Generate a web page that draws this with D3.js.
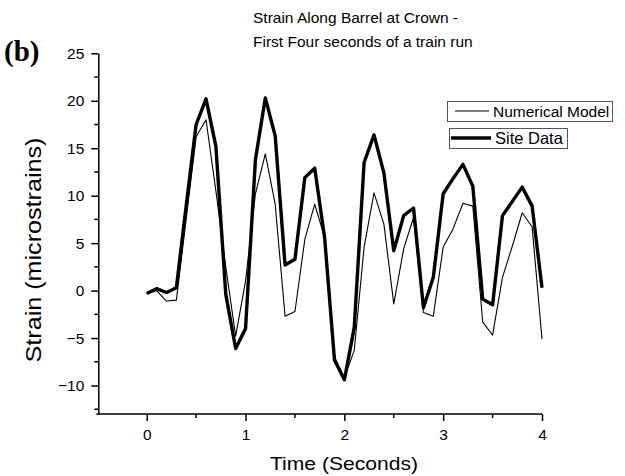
<!DOCTYPE html>
<html><head><meta charset="utf-8">
<script src="https://cdn.jsdelivr.net/npm/d3@7/dist/d3.min.js"></script>
<style>body{margin:0;background:#fff}svg{display:block}text{font-family:Arial,"Liberation Sans",sans-serif;fill:#000}</style>
</head><body>
<script>
const times = d3.range(41).map(i => +(i * 0.1).toFixed(1));
const siteData = [-0.3,0.2,-0.2,0.3,9.0,17.5,20.2,15.2,-0.4,-6.1,-4.0,13.8,20.3,16.3,2.7,3.3,11.9,12.9,5.6,-7.3,-9.4,-3.9,13.5,16.4,12.4,4.2,7.9,8.7,-1.8,1.4,10.2,11.8,13.3,11.0,-0.9,-1.5,7.9,9.4,10.9,8.9,0.3];
const numericalModel = [-0.3,0.0,-1.1,-1.0,7.6,16.2,18.0,10.5,2.5,-4.8,1.0,10.2,14.4,9.1,-2.7,-2.2,5.4,9.1,5.6,-7.0,-9.2,-6.3,4.6,10.3,7.0,-1.4,4.4,7.7,-2.3,-2.7,4.6,6.5,9.2,8.9,-3.3,-4.7,1.4,4.7,8.2,6.7,-5.1];
const xTicks = [0,1,2,3,4];
const xMinor = [0.5,1.5,2.5,3.5];
const yTicks = [-10,-5,0,5,10,15,20,25];
const yMinor = [-12.5,-7.5,-2.5,2.5,7.5,12.5,17.5,22.5];
const titleLines = ["Strain Along Barrel at Crown -","First Four seconds of a train run"];

const W=625,H=476;
const svg=d3.select("body").append("svg").attr("width",W).attr("height",H);
const x=d3.scaleLinear().domain([-0.49,4]).range([98.3,542]);
const y=d3.scaleLinear().domain([-13,25]).range([414,53.3]);

// axes
const gx=svg.append("g").attr("transform",`translate(0,${y(-13)})`)
  .call(d3.axisBottom(x).tickValues(xTicks).tickSize(7).tickSizeOuter(0).tickPadding(8).tickFormat(d3.format("d")));
gx.append("g").selectAll("line").data(xMinor).join("line")
  .attr("x1",d=>x(d)).attr("x2",d=>x(d)).attr("y1",0).attr("y2",4).attr("stroke","#000").attr("stroke-width",1.5);
const gy=svg.append("g").attr("transform",`translate(${x(-0.49)},0)`)
  .call(d3.axisLeft(y).tickValues(yTicks).tickSize(7).tickSizeOuter(0).tickPadding(7).tickFormat(d3.format("d")));
gy.append("g").selectAll("line").data(yMinor).join("line")
  .attr("x1",0).attr("x2",-4).attr("y1",d=>y(d)).attr("y2",d=>y(d)).attr("stroke","#000").attr("stroke-width",1.5);
[gx,gy].forEach(g=>{
  g.select(".domain").attr("stroke","#000").attr("stroke-width",1.5);
  g.selectAll(".tick line").attr("stroke","#000").attr("stroke-width",1.5);
  g.selectAll(".tick text").style("font-size","15.5px").style("font-family","Arial, 'Liberation Sans', sans-serif").attr("fill","#000");
});
gx.select(".domain").attr("d",`M${x(-0.49)-2},0H${x(4)}`);

// lines
const line=vals=>d3.line().x((d,i)=>x(times[i])).y(d=>y(d))(vals);
svg.append("path").attr("d",line(numericalModel)).attr("fill","none").attr("stroke","#000").attr("stroke-width",1.1).attr("stroke-linejoin","round");
svg.append("path").attr("d",line(siteData)).attr("fill","none").attr("stroke","#000").attr("stroke-width",3.4).attr("stroke-linejoin","round");

// titles
svg.append("text").attr("x",253).attr("y",23).style("font-size","15.5px").text(titleLines[0]);
svg.append("text").attr("x",253).attr("y",47).style("font-size","15.5px").text(titleLines[1]);
svg.append("text").attr("x",4).attr("y",61).style("font-family","'Liberation Serif','Times New Roman',serif").style("font-weight","bold").style("font-size","29px").text("(b)");
svg.append("text").attr("x",344).attr("y",470).attr("text-anchor","middle").style("font-size","19px").attr("textLength",148).attr("lengthAdjust","spacingAndGlyphs").text("Time (Seconds)");
svg.append("text").attr("transform","translate(41,250) rotate(-90)").attr("text-anchor","middle").style("font-size","22px").attr("textLength",225).attr("lengthAdjust","spacingAndGlyphs").text("Strain (microstrains)");

// legend
const leg=svg.append("g");
leg.append("rect").attr("x",447.5).attr("y",101.5).attr("width",165).attr("height",20).attr("fill","#fff").attr("stroke","#555");
leg.append("line").attr("x1",455).attr("x2",489).attr("y1",111).attr("y2",111).attr("stroke","#000").attr("stroke-width",1.1);
leg.append("text").attr("x",493).attr("y",117).style("font-size","15.5px").text("Numerical Model");
leg.append("rect").attr("x",449.5).attr("y",128.5).attr("width",118).attr("height",20).attr("fill","#fff").attr("stroke","#555");
leg.append("line").attr("x1",451).attr("x2",491).attr("y1",138).attr("y2",138).attr("stroke","#000").attr("stroke-width",3.4);
leg.append("text").attr("x",495).attr("y",144).style("font-size","16.5px").text("Site Data");
</script>
</body></html>
